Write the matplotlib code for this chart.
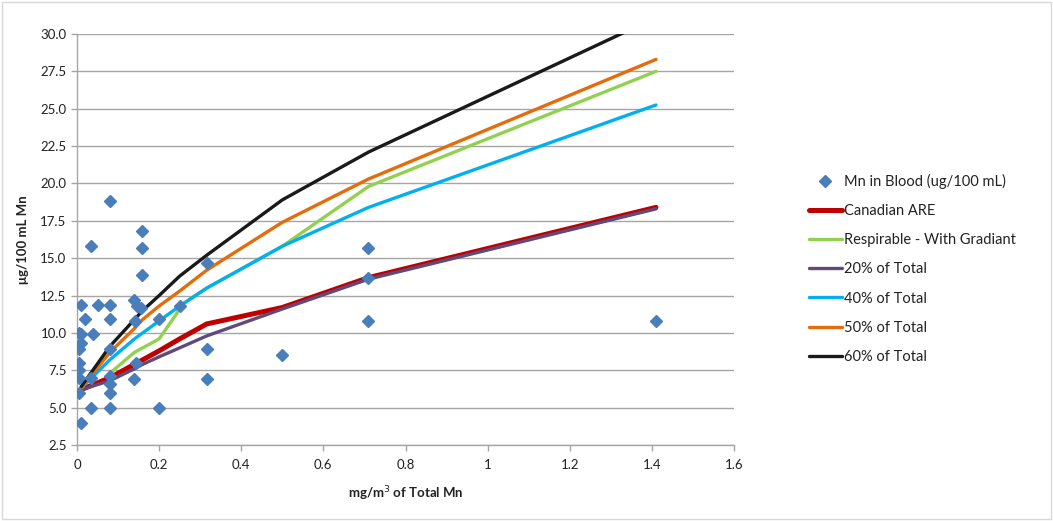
import matplotlib
matplotlib.use("Agg")
import matplotlib.pyplot as plt
from matplotlib.patches import Rectangle
from matplotlib.ticker import FixedLocator, FuncFormatter

plt.rcParams['font.family'] = ['Lato', 'DejaVu Sans']

# ---- data ----
blood_x = [0.005, 0.01, 0.01, 0.01, 0.005, 0.005, 0.005, 0.005, 0.005, 0.01, 0.02,
           0.034, 0.034, 0.034, 0.04, 0.052,
           0.08, 0.08, 0.08, 0.08, 0.08, 0.08, 0.08, 0.08,
           0.14, 0.145, 0.142, 0.144, 0.14,
           0.158, 0.158, 0.158, 0.157,
           0.2, 0.2, 0.25,
           0.316, 0.316, 0.316,
           0.5,
           0.708, 0.708, 0.708,
           1.41]
blood_y = [10.0, 11.9, 9.9, 9.3, 8.9, 8.0, 7.5, 7.0, 6.0, 4.0, 10.9,
           15.8, 7.0, 5.0, 9.9, 11.9,
           18.8, 11.9, 10.9, 8.9, 7.1, 6.6, 6.0, 5.0,
           12.2, 11.8, 10.8, 8.0, 6.9,
           16.8, 15.7, 13.9, 11.7,
           10.9, 5.0, 11.8,
           14.7, 8.9, 6.9,
           8.5,
           15.7, 13.7, 10.8,
           10.8]

line_x = [0.01, 0.08, 0.14, 0.16, 0.2, 0.25, 0.316, 0.5, 0.71, 1.41]
canadian_are = [6.2, 7.0, 7.9, 8.2, 8.8, 9.6, 10.6, 11.7, 13.7, 18.4]
pct20 = [6.2, 6.8, 7.6, 7.9, 8.4, 9.0, 9.8, 11.6, 13.6, 18.3]
pct40 = [6.3, 8.2, 9.6, 10.0, 10.8, 11.8, 13.0, 15.8, 18.4, 25.25]
pct50 = [6.3, 8.7, 10.3, 10.9, 11.8, 12.8, 14.2, 17.4, 20.3, 28.3]
pct60 = [6.4, 9.1, 10.9, 11.5, 12.5, 13.8, 15.2, 18.9, 22.1, 31.1]

resp_x = [0.08, 0.14, 0.2, 0.243, 0.25, 0.316, 0.5, 0.71, 1.41]
resp_y = [7.3, 8.7, 9.6, 11.3, 11.8, 13.0, 15.8, 19.8, 27.5]

x_ticks = [0, 0.2, 0.4, 0.6, 0.8, 1.0, 1.2, 1.4, 1.6]
y_ticks = [2.5, 5.0, 7.5, 10.0, 12.5, 15.0, 17.5, 20.0, 22.5, 25.0, 27.5, 30.0]

labels = ["Mn in Blood (ug/100 mL)", "Canadian ARE", "Respirable - With Gradiant",
          "20% of Total", "40% of Total", "50% of Total", "60% of Total"]

# ---- figure ----
fig = plt.figure(figsize=(10.53, 5.21), dpi=100)
ax = fig.add_axes([77/1053, 1-445/521, (734-77)/1053, (445-34)/521])

fig.patches.append(Rectangle((0.002, 0.004), 0.996, 0.992, transform=fig.transFigure,
                             fill=False, edgecolor='#D9D9D9', linewidth=1.0))

h_sc, = ax.plot(blood_x, blood_y, linestyle='none', marker='D', markersize=6.2,
                color='#4A7EBB', zorder=5)
h_red, = ax.plot(line_x, canadian_are, color='#C00000', linewidth=3.6, zorder=3,
                 solid_capstyle='round')
h_green, = ax.plot(resp_x, resp_y, color='#92D050', linewidth=2.4, zorder=3,
                   solid_capstyle='round')
h_purple, = ax.plot(line_x, pct20, color='#604A7B', linewidth=2.4, zorder=3,
                    solid_capstyle='round')
h_blue, = ax.plot(line_x, pct40, color='#00B0F0', linewidth=2.4, zorder=3,
                  solid_capstyle='round')
h_orange, = ax.plot(line_x, pct50, color='#E46C0A', linewidth=2.4, zorder=3,
                    solid_capstyle='round')
h_black, = ax.plot(line_x, pct60, color='#1A1A1A', linewidth=2.4, zorder=3,
                   solid_capstyle='round')

ax.set_xlim(0, 1.6)
ax.set_ylim(2.5, 30.0)
ax.xaxis.set_major_locator(FixedLocator(x_ticks))
ax.yaxis.set_major_locator(FixedLocator(y_ticks))
ax.xaxis.set_major_formatter(FuncFormatter(lambda v, p: ('%g' % round(v, 2))))
ax.yaxis.set_major_formatter(FuncFormatter(lambda v, p: '%.1f' % v))
ax.grid(axis='y', color='#A6A6A6', linewidth=1.0, zorder=0)
ax.set_axisbelow(True)
for s in ['top', 'right']:
    ax.spines[s].set_visible(False)
for s in ['left', 'bottom']:
    ax.spines[s].set_color('#A6A6A6')
    ax.spines[s].set_linewidth(1.0)
ax.tick_params(axis='both', colors='#A6A6A6', labelcolor='#222222', labelsize=9.5,
               length=4, width=1.0, direction='out')
ax.tick_params(axis='x', pad=6)

ax.set_xlabel('mg/m$^3$ of Total Mn', fontsize=9.5, fontweight='bold', color='#222222',
              labelpad=10)
ax.set_ylabel('μg/100 mL Mn', fontsize=9.5, fontweight='bold', color='#222222',
              labelpad=8)

handles = [h_sc, h_red, h_green, h_purple, h_blue, h_orange, h_black]
leg = fig.legend(handles, labels, loc='upper left',
                 bbox_to_anchor=(803/1053, 1-168/521), frameon=False,
                 fontsize=10.5, handlelength=2.25, handletextpad=0.15,
                 labelspacing=1.04, borderaxespad=0, numpoints=1)
for t in leg.get_texts():
    t.set_color('#222222')

fig.savefig('out.png', dpi=100)
